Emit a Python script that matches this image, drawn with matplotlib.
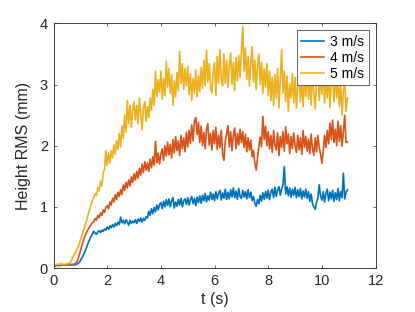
import numpy as np
import matplotlib
matplotlib.use("Agg")
import matplotlib.pyplot as plt

plt.rcParams['font.family'] = ['Liberation Sans', 'DejaVu Sans']

labels = ["3 m/s", "4 m/s", "5 m/s"]
colors = ["#0072BD", "#D95319", "#EDB120"]

dt = 0.05
n_pts = 220

rms_3 = [
    0.03,0.03,0.04,0.04,0.04,0.04,0.05,0.05,0.05,0.05,
    0.05,0.05,0.05,0.05,0.05,0.05,0.05,0.06,0.07,0.09,
    0.12,0.16,0.20,0.25,0.30,0.36,0.42,0.47,0.52,0.56,
    0.60,0.57,0.55,0.59,0.61,0.58,0.62,0.60,0.64,0.62,
    0.67,0.63,0.69,0.66,0.71,0.67,0.73,0.69,0.75,0.71,
    0.83,0.74,0.78,0.72,0.79,0.75,0.70,0.78,0.73,0.77,
    0.74,0.79,0.73,0.80,0.76,0.82,0.75,0.81,0.78,0.84,
    0.82,0.93,0.86,0.97,0.89,0.99,0.92,1.03,0.95,1.04,
    1.07,0.97,1.09,1.00,1.12,1.02,1.13,1.00,1.10,1.15,
    0.98,1.08,1.01,1.12,1.03,1.14,1.00,1.10,1.13,1.04,
    1.15,1.03,1.12,1.17,1.05,1.14,1.02,1.16,1.07,1.18,
    1.06,1.19,1.10,1.22,1.08,1.18,1.11,1.24,1.12,1.21,
    1.10,1.25,1.13,1.22,1.27,1.11,1.23,1.14,1.29,1.12,
    1.24,1.13,1.28,1.16,1.31,1.15,1.26,1.12,1.30,1.17,
    1.14,1.27,1.16,1.25,1.13,1.28,1.15,1.24,1.10,1.17,
    1.06,1.01,1.12,1.05,1.19,1.09,1.23,1.12,1.25,1.14,
    1.27,1.12,1.24,1.29,1.15,1.32,1.17,1.28,1.33,1.19,
    1.30,1.36,1.66,1.21,1.33,1.18,1.31,1.16,1.29,1.19,
    1.32,1.15,1.28,1.17,1.30,1.13,1.26,1.16,1.29,1.14,
    1.25,1.09,1.21,1.05,1.00,0.96,1.07,1.15,1.36,1.18,
    1.11,1.25,1.08,1.22,1.29,1.10,1.24,1.13,1.27,1.09,
    1.23,1.12,1.30,1.10,1.25,1.15,1.55,1.13,1.24,1.28,
]

rms_4 = [
    0.04,0.05,0.05,0.05,0.05,0.06,0.06,0.05,0.05,0.05,
    0.06,0.06,0.06,0.06,0.06,0.06,0.07,0.09,0.13,0.20,
    0.28,0.36,0.43,0.50,0.55,0.60,0.64,0.68,0.71,0.74,
    0.76,0.81,0.78,0.86,0.82,0.90,0.86,0.95,0.91,0.99,
    1.02,0.97,1.08,1.03,1.14,1.08,1.20,1.12,1.24,1.17,
    1.28,1.20,1.36,1.27,1.40,1.31,1.44,1.34,1.49,1.40,
    1.54,1.44,1.58,1.47,1.63,1.52,1.70,1.56,1.74,1.60,
    1.72,1.58,1.78,1.64,1.82,1.68,2.07,1.72,1.88,1.70,
    1.86,1.95,1.76,2.00,1.83,2.06,1.85,2.02,1.80,2.10,
    1.88,2.15,1.92,2.08,1.84,2.17,1.95,2.13,1.90,2.22,
    1.98,2.25,2.04,2.34,2.08,2.40,2.46,2.18,2.38,2.05,
    2.32,2.00,2.22,1.95,2.27,2.36,2.01,2.20,1.93,2.25,
    2.03,2.30,1.94,2.17,1.97,2.25,1.86,1.76,2.08,2.20,
    2.33,1.98,2.23,1.92,2.17,2.29,1.95,2.20,2.01,2.27,
    2.05,2.23,1.97,2.19,1.90,2.13,1.93,2.09,1.82,1.92,
    1.72,1.60,1.80,1.98,2.14,1.98,2.48,2.10,2.32,2.00,
    2.23,1.95,2.17,1.89,2.25,2.01,1.93,2.21,1.84,2.15,
    1.97,2.23,1.91,2.31,2.03,2.19,1.87,2.15,1.95,2.21,
    2.00,1.89,2.17,1.93,2.13,1.86,2.25,1.97,2.15,1.91,
    2.11,1.87,2.19,1.95,1.84,2.13,1.90,2.17,1.97,1.86,
    1.71,1.92,2.17,1.97,2.25,2.03,2.37,2.10,2.42,2.05,
    2.27,2.00,2.40,2.07,2.33,1.99,2.23,2.50,2.05,2.06,
]

rms_5 = [
    0.05,0.05,0.06,0.06,0.06,0.06,0.07,0.06,0.06,0.06,
    0.07,0.07,0.08,0.11,0.15,0.20,0.24,0.29,0.33,0.38,
    0.46,0.52,0.60,0.66,0.74,0.80,0.90,0.96,1.04,1.10,
    1.16,1.22,1.18,1.32,1.26,1.42,1.34,1.55,1.62,1.92,
    1.68,1.88,1.72,1.92,1.80,2.02,1.86,2.08,1.94,2.20,
    1.98,2.32,2.12,2.50,2.22,2.74,2.36,2.66,2.30,2.58,
    2.72,2.42,2.66,2.36,2.78,2.50,2.26,2.62,2.72,2.40,
    2.64,2.46,2.78,2.58,2.92,2.66,3.22,2.80,3.08,2.88,
    3.22,2.76,3.10,2.82,3.38,2.96,3.26,2.86,3.16,2.66,
    3.06,2.80,3.20,2.90,3.54,3.02,3.34,2.92,3.26,2.98,
    3.30,2.84,3.18,2.74,3.10,2.86,3.24,2.80,3.14,2.88,
    3.28,2.94,3.40,2.98,3.56,3.04,3.34,2.96,2.86,3.22,
    3.36,2.82,3.46,3.02,3.57,3.10,2.98,3.50,3.02,3.40,
    2.95,3.32,3.52,3.00,3.36,2.90,3.44,3.06,3.48,3.12,
    3.55,3.95,3.22,3.60,3.08,3.46,2.98,3.36,3.62,3.04,
    3.40,2.92,3.30,3.50,3.00,3.36,2.86,3.26,2.96,3.34,
    2.82,3.22,2.74,3.12,2.66,3.16,2.78,3.26,2.62,3.08,
    3.57,2.86,3.22,2.72,3.14,2.56,3.02,2.78,3.18,2.70,
    3.12,2.62,2.98,3.24,2.72,3.08,2.64,3.16,2.80,3.26,
    2.76,3.12,2.66,3.22,2.86,2.60,3.06,3.28,2.74,3.16,
    2.84,3.24,2.70,3.12,2.78,3.20,2.62,3.04,3.14,2.72,
    3.18,2.78,3.10,2.64,3.02,2.50,2.88,3.06,2.56,2.78,
]

x_ticks = [0, 2, 4, 6, 8, 10, 12]
y_ticks = [0, 1, 2, 3, 4]

t = np.arange(n_pts) * dt

fig = plt.figure(figsize=(4.15, 3.12), dpi=100)
ax = fig.add_axes([0.129, 0.141, 0.776, 0.784])

for y, c, lab in zip([rms_3, rms_4, rms_5], colors, labels):
    ax.plot(t, y, color=c, lw=1.2, label=lab)

ax.set_xlim(0, 12)
ax.set_ylim(0, 4)
ax.set_xticks(x_ticks)
ax.set_yticks(y_ticks)
ax.tick_params(direction='in', length=2.5, width=0.5, top=True, right=True,
               labelsize=10.5, colors='#262626', pad=4)
for s in ax.spines.values():
    s.set_linewidth(0.6)
    s.set_color('#262626')
ax.set_xlabel('t (s)', fontsize=11.5, color='#262626', labelpad=3)
ax.set_ylabel('Height RMS (mm)', fontsize=11.5, color='#262626', labelpad=6)

leg = ax.legend(loc='upper right', fontsize=10, handlelength=1.6, handletextpad=0.5,
                borderpad=0.3, labelspacing=0.15, borderaxespad=0.5,
                fancybox=False, framealpha=1, edgecolor='#262626')
leg.get_frame().set_linewidth(0.5)

fig.savefig('out.png', dpi=100)
